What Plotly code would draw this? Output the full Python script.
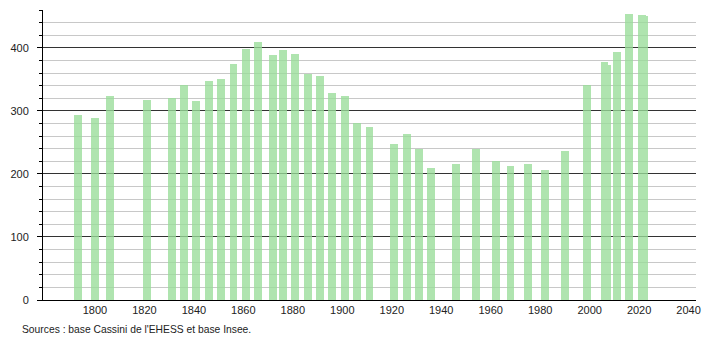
import plotly.graph_objects as go

years = [1793, 1800, 1806, 1821, 1831, 1836, 1841, 1846, 1851, 1856, 1861, 1866,
         1872, 1876, 1881, 1886, 1891, 1896, 1901, 1906, 1911, 1921, 1926, 1931,
         1936, 1946, 1954, 1962, 1968, 1975, 1982, 1990, 1999, 2006, 2007, 2011,
         2016, 2021, 2022]
population = [293, 288, 323, 317, 320, 341, 315, 347, 350, 374, 398, 409,
              388, 397, 390, 358, 355, 328, 323, 280, 274, 248, 263, 239,
              210, 216, 239, 221, 212, 216, 207, 236, 341, 377, 373, 393,
              454, 452, 450]
x_ticks = [1800, 1820, 1840, 1860, 1880, 1900, 1920, 1940, 1960, 1980, 2000, 2020, 2040]
source_text = "Sources : base Cassini de l'EHESS et base Insee."

fig = go.Figure()
fig.add_trace(go.Bar(
    x=years, y=population, width=3.2,
    marker=dict(color="rgb(153,221,153)", line=dict(width=0)),
    opacity=0.78,
    hoverinfo="x+y",
))

font = dict(family="Liberation Sans, Arial, sans-serif", size=11, color="#222")

fig.update_layout(
    width=710, height=340,
    margin=dict(l=43, r=9, t=10, b=40),
    paper_bgcolor="white", plot_bgcolor="white",
    showlegend=False,
    font=font,
    bargap=0,
    xaxis=dict(
        range=[1779, 2043],
        tickmode="array", tickvals=x_ticks, ticktext=[str(v) for v in x_ticks],
        showgrid=False, zeroline=False,
        showline=True, linecolor="#000", linewidth=1,
        ticks="", tickfont=font,
    ),
    yaxis=dict(
        range=[0, 460],
        tickmode="linear", tick0=0, dtick=100,
        showgrid=True, gridcolor="#333", gridwidth=1,
        zeroline=False,
        showline=True, linecolor="#000", linewidth=1,
        ticks="outside", ticklen=5, tickcolor="#000", tickwidth=1,
        ticklabelstandoff=6,
        tickfont=font,
        minor=dict(dtick=20, tick0=0, showgrid=True, gridcolor="#c8c8c8",
                   gridwidth=1, ticks="outside", ticklen=3, tickcolor="#000"),
    ),
    annotations=[dict(
        text=source_text, xref="paper", yref="paper",
        x=-0.035, y=-0.1, xanchor="left", yanchor="middle",
        showarrow=False,
        font=dict(family="Liberation Sans, Arial, sans-serif", size=10.3, color="#222"),
    )],
)

fig.write_html("out.html")
